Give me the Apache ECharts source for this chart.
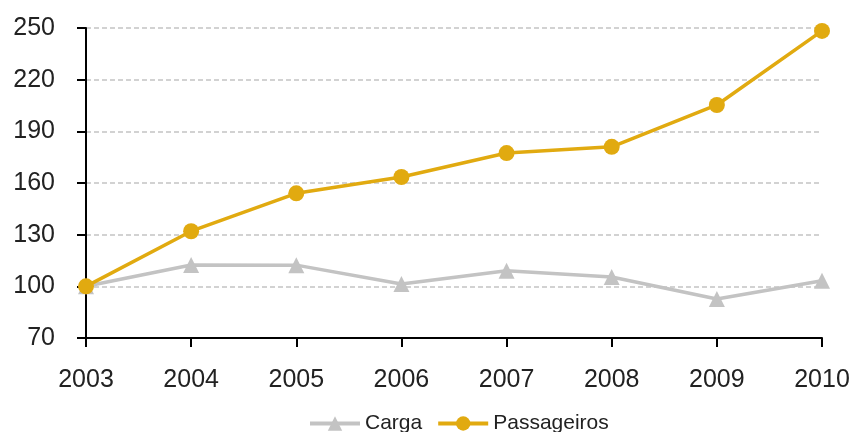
<!DOCTYPE html>
<html>
<head>
<meta charset="utf-8">
<script src="https://cdn.jsdelivr.net/npm/echarts@6/dist/echarts.min.js"></script>
<style>
  html, body { margin: 0; padding: 0; background: #fff; }
  #chart { width: 854px; height: 432px; }
</style>
</head>
<body>
<div id="chart"></div>
<script>
// Index (2003 = 100) of cargo and passenger traffic
const years = ['2003', '2004', '2005', '2006', '2007', '2008', '2009', '2010'];
const carga = [100, 112.4, 112.3, 101.4, 109, 105.4, 92.6, 103.2];
const passageiros = [100, 132, 154, 163.5, 177.4, 181, 205.3, 248.3];
const yTicks = { min: 70, max: 250, step: 30 };

const FONT = '"Liberation Sans", Arial, sans-serif';
const GOLD = '#E1AA10';
const GREY = '#C3C3C3';

const chart = echarts.init(document.getElementById('chart'));
chart.setOption({
  animation: false,
  backgroundColor: '#fff',
  grid: { left: 86, right: 32, top: 28, bottom: 94, containLabel: false },
  legend: {
    top: 408,
    left: 303,
    itemWidth: 50,
    itemHeight: 18,
    itemGap: 14,
    lineStyle: { width: 4 },
    textStyle: { fontFamily: FONT, fontSize: 21, color: '#222' },
    data: ['Carga', 'Passageiros']
  },
  xAxis: {
    type: 'category',
    data: years,
    boundaryGap: false,
    axisLine: { lineStyle: { color: '#000', width: 2 } },
    axisTick: { show: true, length: 9, alignWithLabel: true, lineStyle: { color: '#000', width: 2 } },
    axisLabel: { fontFamily: FONT, fontSize: 25, color: '#222', margin: 30 },
    splitLine: { show: false }
  },
  yAxis: {
    type: 'value',
    min: yTicks.min,
    max: yTicks.max,
    interval: yTicks.step,
    axisLine: { show: true, lineStyle: { color: '#000', width: 2 } },
    axisTick: { show: true, length: 9, lineStyle: { color: '#000', width: 2 } },
    axisLabel: { fontFamily: FONT, fontSize: 25, color: '#222', margin: 31 },
    splitLine: { show: true, lineStyle: { color: '#c4c4c4', type: [5, 3], width: 1.5 } }
  },
  series: [
    {
      name: 'Carga',
      type: 'line',
      data: carga,
      symbol: 'triangle',
      symbolSize: 16,
      lineStyle: { color: GREY, width: 3.5 },
      itemStyle: { color: GREY },
      z: 2
    },
    {
      name: 'Passageiros',
      type: 'line',
      data: passageiros,
      symbol: 'circle',
      symbolSize: 16,
      lineStyle: { color: GOLD, width: 3.5 },
      itemStyle: { color: GOLD },
      z: 3
    }
  ]
});
</script>
</body>
</html>
